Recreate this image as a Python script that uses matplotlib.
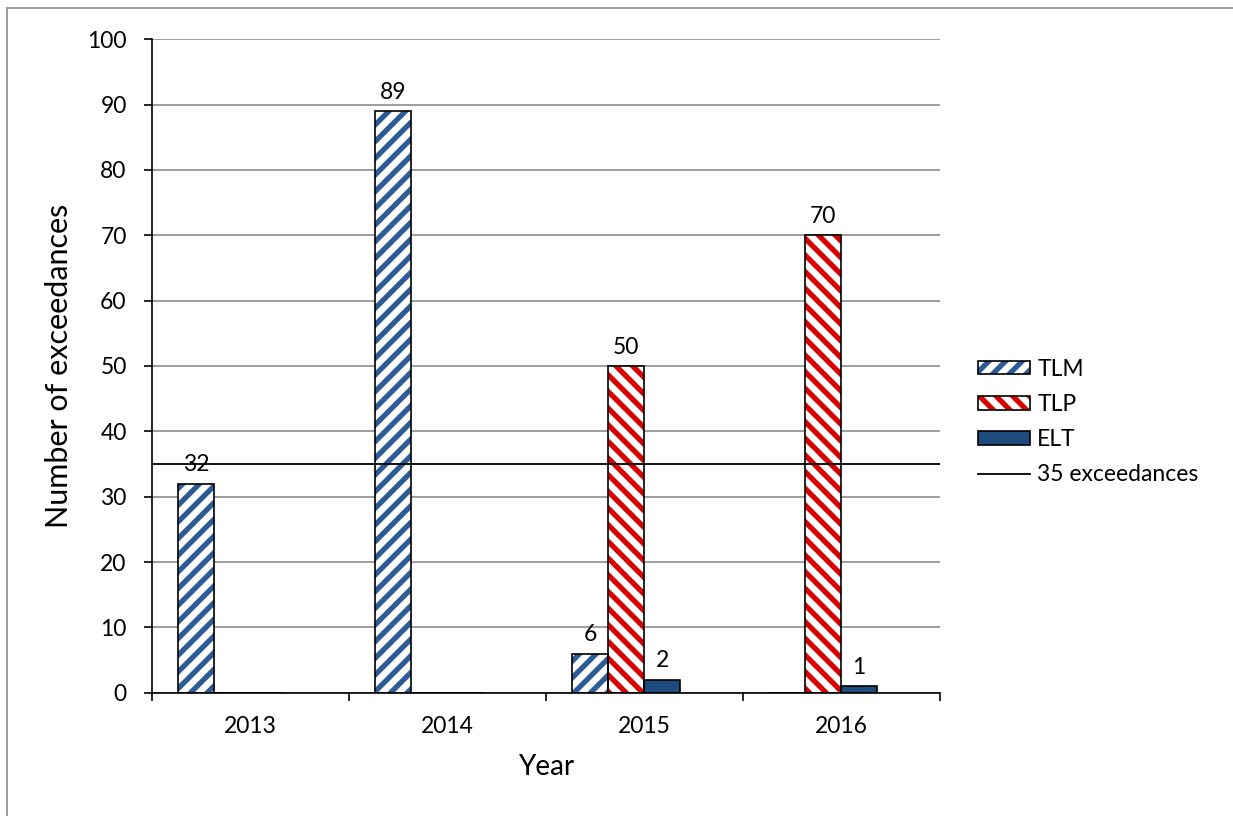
import matplotlib.pyplot as plt
import numpy as np
from matplotlib.patches import Rectangle, Patch
from matplotlib.legend_handler import HandlerTuple

plt.rcParams['font.family'] = ['Lato', 'DejaVu Sans']
plt.rcParams['hatch.linewidth'] = 3.8

years = ['2013', '2014', '2015', '2016']
tlm = [32, 89, 6, 0]
tlp = [0, 0, 50, 70]
elt = [0, 0, 2, 1]
threshold = 35

blue = '#2D5B95'
red = '#D80000'
navy = '#1F4A7D'
fs = 16.5

fig = plt.figure(figsize=(12.33, 8.16), dpi=100)
ax = fig.add_axes([0.123, 0.151, 0.639, 0.801])

# outer grey frame like the spreadsheet chart area
fig.patches.append(Rectangle((7 / 1233, -0.01), 1.2, 1 - 8 / 816 + 0.01,
                             transform=fig.transFigure, fill=False,
                             edgecolor='#888888', linewidth=1.2))

x = np.arange(len(years))
w = 0.183
# four slots per group, the fourth one is empty
bars_tlm = ax.bar(x - 1.5 * w, tlm, w, facecolor='white', edgecolor=blue,
                  hatch='//', linewidth=0)
bars_tlp = ax.bar(x - 0.5 * w, tlp, w, facecolor='white', edgecolor=red,
                  hatch='\\\\', linewidth=0)
bars_elt = ax.bar(x + 0.5 * w, elt, w, facecolor=navy, edgecolor='black',
                  linewidth=1.2)

# black outlines for the hatched bars
for bars, vals in ((bars_tlm, tlm), (bars_tlp, tlp)):
    ax.bar([b.get_x() + b.get_width() / 2 for b in bars], vals, w,
           fill=False, edgecolor='black', linewidth=1.2)

# value labels on non-zero bars
for bars, vals in ((bars_tlm, tlm), (bars_tlp, tlp), (bars_elt, elt)):
    for b, v in zip(bars, vals):
        if v == 0:
            continue
        ax.annotate(str(v), (b.get_x() + b.get_width() / 2, v),
                    xytext=(0, 6), textcoords='offset points',
                    ha='center', va='bottom', fontsize=fs)

line = ax.axhline(threshold, color='black', linewidth=1.3)

ax.set_xlim(-0.5, len(years) - 0.5)
ax.set_ylim(0, 100)
ax.set_yticks(range(0, 101, 10))
ax.tick_params(axis='y', labelsize=fs, length=6, width=1.2, pad=12)
ax.set_xticks(x)
ax.set_xticklabels(years)
ax.set_xticks(np.arange(-0.5, len(years), 1), minor=True)
ax.tick_params(axis='x', which='major', length=0, labelsize=fs, pad=17)
ax.tick_params(axis='x', which='minor', length=6, width=1.2)

ax.yaxis.grid(True, color='#8c8c8c', linewidth=1.2)
ax.set_axisbelow(True)
for s in ('top', 'right'):
    ax.spines[s].set_visible(False)
ax.spines['left'].set_linewidth(1.2)
ax.spines['bottom'].set_linewidth(1.2)

ax.set_xlabel('Year', fontsize=20, labelpad=12)
ax.set_ylabel('Number of exceedances', fontsize=22, labelpad=10)

outline = dict(fill=False, edgecolor='black', linewidth=1.2)
h_tlm = (Patch(facecolor='white', edgecolor=blue, hatch='//', linewidth=0),
         Patch(**outline))
h_tlp = (Patch(facecolor='white', edgecolor=red, hatch='\\\\', linewidth=0),
         Patch(**outline))
h_elt = Patch(facecolor=navy, edgecolor='black', linewidth=1.2)

fig.legend([h_tlm, h_tlp, h_elt, line], ['TLM', 'TLP', 'ELT', '35 exceedances'],
           handler_map={tuple: HandlerTuple(ndivide=1, pad=0)},
           loc='center left', bbox_to_anchor=(0.793, 0.483),
           borderpad=0, borderaxespad=0, frameon=False, fontsize=fs,
           handlelength=2.3, handleheight=0.55, labelspacing=0.62,
           handletextpad=0.3)

fig.savefig('out.png', dpi=100)
